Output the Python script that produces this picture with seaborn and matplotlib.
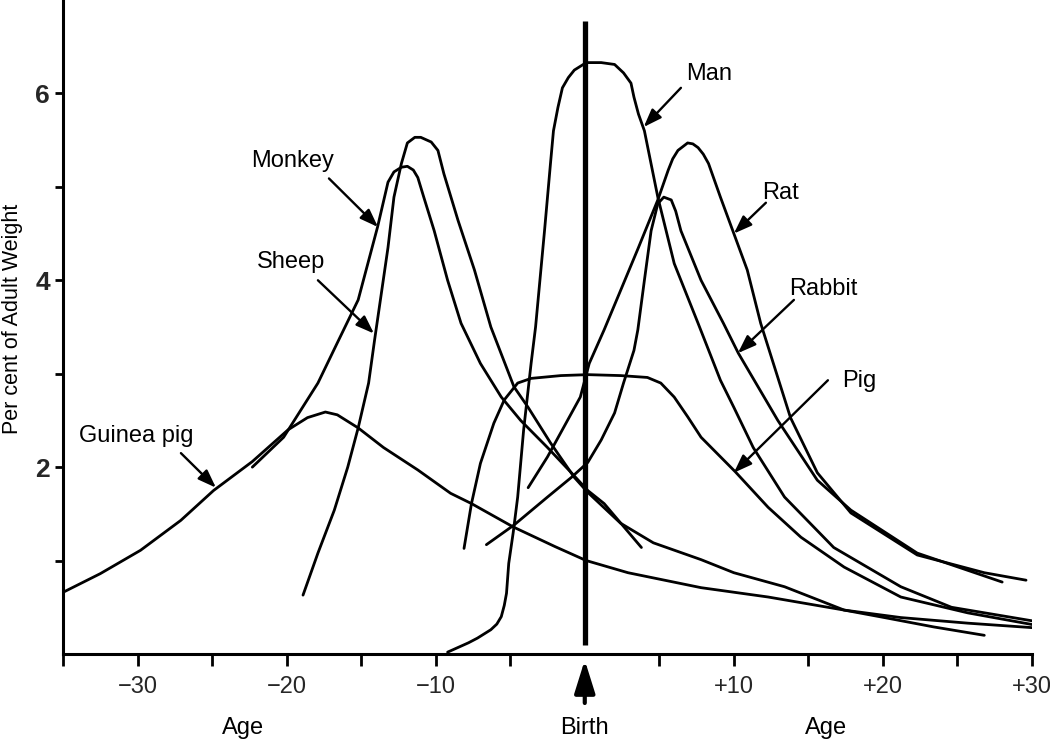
import numpy as np
import pandas as pd
import matplotlib
matplotlib.use("Agg")
import matplotlib.pyplot as plt
import matplotlib.transforms as mtransforms
import seaborn as sns

# ---------------- data ----------------
guinea_age = [-35.0, -32.5, -29.8, -27.1, -24.9, -22.3, -19.9, -18.6, -17.4, -16.6, -15.2,
              -13.5, -11.2, -9.0, -7.6, -4.8, -2.0, 0.1, 2.9, 7.8, 12.3, 17.4, 21.2, 25.7, 30.2]
guinea_pct = [0.66, 0.86, 1.11, 1.43, 1.75, 2.06, 2.40, 2.53, 2.59, 2.56, 2.42,
              2.21, 1.97, 1.72, 1.61, 1.36, 1.15, 1.00, 0.87, 0.71, 0.61, 0.47, 0.39, 0.33, 0.28]

monkey_age = [-22.3, -20.2, -17.9, -16.6, -15.2, -13.9, -13.2, -12.8, -12.3, -11.9, -11.5,
              -11.2, -10.8, -10.1, -9.2, -8.3, -7.0, -5.6, -4.3, -2.5, -0.9, 0.2, 1.3, 3.8]
monkey_pct = [2.00, 2.32, 2.90, 3.33, 3.79, 4.57, 5.05, 5.16, 5.21, 5.22, 5.18,
              5.10, 4.89, 4.53, 4.00, 3.54, 3.11, 2.75, 2.50, 2.21, 1.94, 1.75, 1.61, 1.14]

sheep_age = [-18.9, -17.9, -16.8, -15.9, -15.2, -14.5, -14.1, -13.7, -13.2, -12.8,
             -12.3, -11.9, -11.4, -11.0, -10.3, -9.85, -9.45, -8.5, -7.4, -6.3,
             -4.75, -3.8, -2.3, -0.7, 0.2, 2.4, 4.6, 7.8, 10.0, 13.4,
             17.4, 20.1, 23.4, 26.8]
sheep_pct = [0.63, 1.08, 1.54, 2.00, 2.42, 2.90, 3.36, 3.80, 4.35, 4.89,
             5.25, 5.47, 5.53, 5.53, 5.48, 5.39, 5.14, 4.64, 4.11, 3.50,
             2.86, 2.64, 2.26, 1.89, 1.73, 1.40, 1.19, 1.01, 0.87, 0.72,
             0.47, 0.39, 0.29, 0.20]

man_age = [-9.2, -8.5, -7.8, -7.2, -6.3, -5.9, -5.6, -5.4, -5.25, -5.1, -4.8, -4.5, -4.1, -3.6, -3.3,
           -2.7, -2.3, -2.1, -1.8, -1.5, -1.1, -0.7, 0.1, 1.1, 2.0, 2.6, 3.1,
           3.3, 3.6, 4.0, 4.9, 6.0, 7.6, 9.1, 10.0, 11.3, 13.4, 16.7,
           21.2, 24.6, 30.2]
man_pct = [0.02, 0.07, 0.12, 0.17, 0.26, 0.32, 0.40, 0.52, 0.65, 0.97, 1.30, 1.68, 2.40, 3.11, 3.50,
           4.53, 5.25, 5.60, 5.85, 6.06, 6.17, 6.25, 6.33, 6.33, 6.31, 6.22, 6.11,
           5.96, 5.78, 5.60, 4.89, 4.18, 3.54, 2.93, 2.64, 2.21, 1.68, 1.14,
           0.72, 0.50, 0.35]

rabbit_age = [-6.6, -4.75, -2.5, -0.9, 0.2, 1.1, 2.0, 2.6, 3.3, 3.56, 4.0, 4.45, 4.9,
              5.3, 5.8, 6.1, 6.45, 7.8, 9.3, 10.3, 12.95, 15.6, 17.85, 22.3, 28.0]
rabbit_pct = [1.17, 1.38, 1.68, 1.89, 2.05, 2.29, 2.58, 2.90, 3.25, 3.47, 4.00, 4.53, 4.82,
              4.89, 4.86, 4.74, 4.53, 4.00, 3.54, 3.22, 2.50, 1.86, 1.54, 1.08, 0.77]

rat_age = [-3.8, -2.5, -1.4, -0.3, 0.3, 1.3, 2.4, 3.6, 4.9, 5.6, 5.9, 6.25, 6.9, 7.25, 7.6, 7.95, 8.3,
           9.1, 10.0, 10.9, 11.8, 13.8, 15.6, 17.85, 22.3, 26.8, 29.6]
rat_pct = [1.78, 2.11, 2.43, 2.75, 3.11, 3.47, 3.89, 4.35, 4.86, 5.18, 5.30, 5.39, 5.47, 5.46, 5.42, 5.35, 5.25,
           4.89, 4.50, 4.11, 3.54, 2.53, 1.94, 1.51, 1.06, 0.87, 0.79]

pig_age = [-8.1, -7.6, -7.0, -6.1, -5.4, -4.5, -3.6, -1.6, 0.2, 2.4, 4.2, 5.1, 6.0, 6.9,
           7.8, 10.1, 12.3, 14.5, 17.4, 21.2, 25.7, 30.2]
pig_pct = [1.13, 1.61, 2.04, 2.47, 2.72, 2.90, 2.95, 2.98, 2.99, 2.98, 2.96, 2.90, 2.75, 2.54,
           2.32, 1.95, 1.57, 1.25, 0.93, 0.61, 0.44, 0.31]

species_names = ["Guinea pig", "Monkey", "Sheep", "Man", "Rabbit", "Rat", "Pig"]
species_ages = [guinea_age, monkey_age, sheep_age, man_age, rabbit_age, rat_age, pig_age]
species_pcts = [guinea_pct, monkey_pct, sheep_pct, man_pct, rabbit_pct, rat_pct, pig_pct]

x_major = [-30, -20, -10, 10, 20, 30]
x_major_labels = ["\u221230", "\u221220", "\u221210", "+10", "+20", "+30"]
x_minor = [-35, -25, -15, -5, 5, 15, 25]
y_major = [2, 4, 6]
y_minor = [1, 3, 5]

birth_age = 0.0

# ---------------- layout (label / arrow placement) ----------------
label_layout = {
    # name: (text x, text y, arrow start x, arrow start y, arrow tip x, arrow tip y)
    "Man":        (8.33, 6.21, 6.45, 6.06, 3.95, 5.64),
    "Rat":        (13.16, 4.93, 12.15, 4.83, 10.0, 4.50),
    "Rabbit":     (15.97, 3.91, 14.03, 3.79, 10.27, 3.22),
    "Pig":        (18.39, 2.92, 16.31, 2.93, 10.0, 1.94),
    "Monkey":     (-19.57, 5.28, -17.16, 5.09, -13.87, 4.57),
    "Sheep":      (-19.71, 4.20, -17.9, 4.00, -14.14, 3.43),
    "Guinea pig": (-30.1, 2.33, -27.09, 2.15, -24.74, 1.78),
}

frames = []
for name, ages, pcts in zip(species_names, species_ages, species_pcts):
    frames.append(pd.DataFrame({"species": name, "age": ages, "pct": pcts}))
df = pd.concat(frames, ignore_index=True)

sns.set_style("ticks")
plt.rcParams["font.family"] = ["Liberation Sans", "DejaVu Sans"]

W, H = 1050, 741
fig = plt.figure(figsize=(W / 100, H / 100), dpi=100)
ax = fig.add_axes([63 / W, 87 / H, (1032 - 63) / W, 1 - 87 / H])

sns.lineplot(data=df, x="age", y="pct", units="species", estimator=None, sort=False,
             color="black", lw=2.0, ax=ax, legend=False)
for ln in ax.lines:
    ln.set_solid_joinstyle("round")

ax.vlines(birth_age, 0.1, 6.78, color="black", lw=3.8)

ax.set_xlim(-35, 30)
ax.set_ylim(0, 7)
sns.despine(ax=ax)
for s in ("left", "bottom"):
    ax.spines[s].set_linewidth(2.2)
    ax.spines[s].set_color("black")

ax.set_xticks(x_major)
ax.set_xticklabels(x_major_labels)
ax.set_xticks(x_minor, minor=True)
ax.set_yticks(y_major)
ax.set_yticklabels([str(v) for v in y_major])
ax.set_yticks(y_minor, minor=True)

ax.tick_params(axis="x", which="both", direction="out", length=8.6, width=2, color="black",
               labelsize=17, pad=7)
ax.tick_params(axis="y", which="both", direction="out", length=5.8, width=2, color="black",
               labelsize=19, pad=3.5)
for lbl in ax.get_yticklabels():
    lbl.set_fontweight("bold")

ax.set_xlabel("")
ax.set_ylabel("Per cent of Adult Weight", fontsize=15.5, color="black")
ax.yaxis.set_label_coords(-0.041, 0.513)

for name, (tx, ty, sx, sy, hx, hy) in label_layout.items():
    ax.text(tx, ty, name, ha="center", va="center", fontsize=17, color="black")
    ax.annotate("", xy=(hx, hy), xytext=(sx, sy),
                arrowprops=dict(arrowstyle="-|>,head_length=0.55,head_width=0.2",
                                color="black", lw=1.7, shrinkA=0, shrinkB=0,
                                mutation_scale=20))

trans = mtransforms.blended_transform_factory(ax.transData, fig.transFigure)
ax.annotate("", xy=(birth_age, (H - 660) / H), xytext=(birth_age, (H - 703) / H),
            xycoords=trans, textcoords=trans, annotation_clip=False,
            arrowprops=dict(arrowstyle="-|>,head_length=0.8,head_width=0.25",
                            color="black", lw=3, shrinkA=0, shrinkB=0, mutation_scale=25))
for txt, xx in (("Age", -22.9), ("Birth", birth_age), ("Age", 16.2)):
    ax.text(xx, (H - 728) / H, txt, transform=trans, ha="center", va="center",
            fontsize=17, color="black")

fig.savefig("out.png", dpi=100, facecolor="white")
